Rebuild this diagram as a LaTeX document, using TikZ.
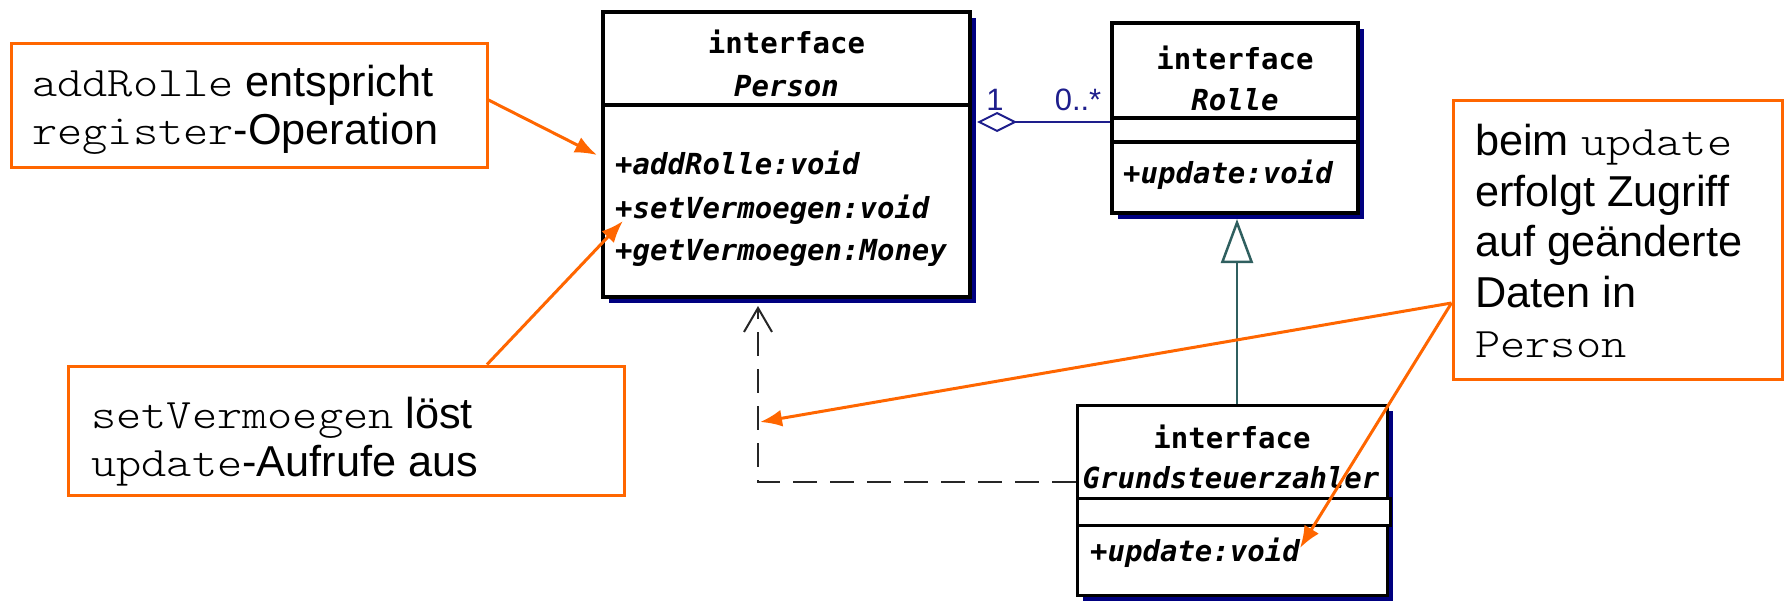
\documentclass[tikz,border=0pt]{standalone}
\usepackage{fontspec}
\setmainfont{Liberation Sans}[Scale=1.03]
\setmonofont{Latin Modern Mono Light}[FakeStretch=1.143]
\newfontfamily\umlfont{DejaVu Sans Mono}
\usetikzlibrary{arrows.meta,shadows}

\definecolor{noteorange}{RGB}{255,102,0}
\definecolor{shadownavy}{RGB}{0,0,128}
\definecolor{assocblue}{RGB}{30,30,140}
\definecolor{genteal}{RGB}{47,95,95}

\begin{document}
\begin{tikzpicture}[x=1pt,y=-1pt,
  classbox/.style={draw=black, line width=4pt, fill=white, inner sep=0pt,
    drop shadow={shadow xshift=6pt, shadow yshift=-6pt, fill=shadownavy, opacity=1}},
  divider/.style={draw=black, line width=4pt},
  umlhead/.style={font={\umlfont\bfseries\fontsize{29}{29}\selectfont}, inner sep=0pt},
  umlname/.style={font={\umlfont\bfseries\itshape\fontsize{29}{29}\selectfont}, inner sep=0pt},
  umlop/.style={umlname, anchor=west},
  notebox/.style={draw=noteorange, line width=3pt, fill=white, inner sep=0pt},
  notetext/.style={align=left, anchor=west, inner sep=0pt, font={\fontsize{42}{48}\selectfont}},
  notearrow/.style={draw=noteorange, line width=3pt, -{Latex[length=22pt,width=17pt]}},
  assoc/.style={draw=assocblue, line width=2pt},
  mult/.style={text=assocblue, inner sep=0pt, font={\fontsize{30}{30}\selectfont}},
  gen/.style={draw=genteal, line width=2.5pt},
  dep/.style={draw=black!85, line width=2.5pt, dash pattern=on 24pt off 13pt},
]
\useasboundingbox (0,0) rectangle (1784,600);

\coordinate (depTip) at (758,306);
\coordinate (depRow) at (0,482);

% ---- class Person ----
\node[classbox, minimum width=367pt, minimum height=285pt] (person) at (786.5,154.5) {};
\draw[divider] (person.west |- 0,105) -- (person.east |- 0,105);
\node[umlhead] (personStereo) at (786.5,42) {interface};
\node[umlname] (personName) at (786.5,86) {Person};
\node[umlop] (opAdd) at (615,163) {+addRolle:void};
\node[umlop] (opSet) at (615,210) {+setVermoegen:void};
\node[umlop] (opGet) at (615,253) {+getVermoegen:Money};

% ---- class Rolle ----
\node[classbox, minimum width=246pt, minimum height=190pt] (rolle) at (1235,118) {};
\draw[divider] (rolle.west |- 0,118) -- (rolle.east |- 0,118);
\draw[divider] (rolle.west |- 0,142) -- (rolle.east |- 0,142);
\node[umlhead] (rolleStereo) at (1235,58) {interface};
\node[umlname] (rolleName) at (1235,100) {Rolle};
\node[umlop] (rolleOp) at (1123,175) {+update:void};

% ---- class Grundsteuerzahler ----
\node[classbox, line width=3pt, minimum width=310pt, minimum height=190pt] (grund) at (1232,500) {};
\node[draw=black, line width=3pt, fill=white, inner sep=0pt,
      minimum width=313pt, minimum height=27pt] (grundAttr) at (1233.5,511.5) {};
\node[umlhead] (grundStereo) at (1232,437) {interface};
\node[umlname] (grundName) at (1231,478) {Grundsteuerzahler};
\node[umlop] (grundOp) at (1090,553) {+update:void};

% ---- aggregation Person <>-- Rolle ----
\coordinate (aggEnd) at (977,122);
\draw[assoc, {Diamond[open,length=40pt,width=20pt]}-] (aggEnd) -- (rolle.west |- aggEnd);
\node[mult] (multOne) at (995,100) {1};
\node[mult] (multMany) at (1078,100) {0..*};

% ---- generalisation Grundsteuerzahler --|> Rolle ----
\coordinate (genTop) at (1237,219);
\draw[gen, -{Triangle[open,length=44pt,width=32pt]}] (grund.north -| genTop) -- (genTop);

% ---- dependency (dashed) ----
\draw[dep, -{Straight Barb[length=24pt,width=28pt,line width=2pt]}]
  (grund.west |- depRow) -| (depTip);

% ---- notes ----
\node[notebox, minimum width=476pt, minimum height=124pt] (noteAdd) at (249,105) {};
\node[notetext] (noteAddText) at (32,110)
  {\texttt{addRolle} entspricht\\\texttt{register}-Operation};
\node[notebox, minimum width=556pt, minimum height=129pt] (noteSet) at (346,430.5) {};
\node[notetext] (noteSetText) at (91,442)
  {\texttt{setVermoegen} löst\\\texttt{update}-Aufrufe aus};
\node[notebox, minimum width=329pt, minimum height=279pt] (noteData) at (1617.5,239.5) {};
\node[notetext, font={\fontsize{42}{50.5}\selectfont}] (noteDataText) at (1475,241)
  {beim \texttt{update}\\erfolgt Zugriff\\auf geänderte\\Daten in\\\texttt{Person}};

\coordinate (tipAdd) at (597,155);
\coordinate (tipSet) at (623,221);
\coordinate (tipDep) at (760,422);
\coordinate (tipUpd) at (1300,548);

\draw[notearrow] (noteAdd.east |- 0,100) -- (tipAdd);
\draw[notearrow] (noteSet.north -| 487,0) -- (tipSet);
\draw[notearrow] (noteData.west |- 0,303) -- (tipDep);
\draw[notearrow] (noteData.west |- 0,303) -- (tipUpd);
\end{tikzpicture}
\end{document}
